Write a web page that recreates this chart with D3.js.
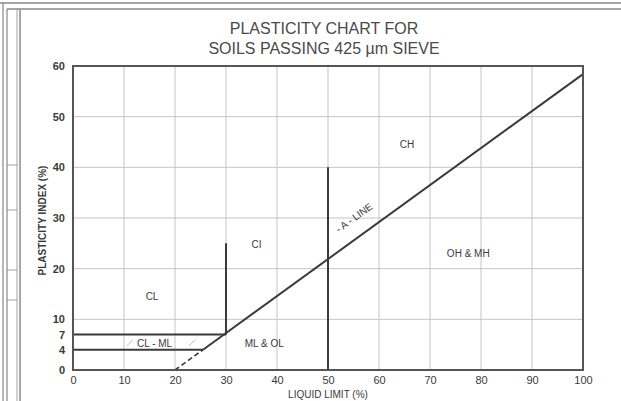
<!DOCTYPE html>
<html>
<head>
<meta charset="utf-8">
<script src="https://cdn.jsdelivr.net/npm/d3@7"></script>
<style>
  body { margin: 0; background: #fff; }
  svg { display: block; font-family: "Liberation Sans", Arial, sans-serif; }
</style>
</head>
<body>
<svg width="621" height="401"></svg>
<script>
var xTicks = [0, 10, 20, 30, 40, 50, 60, 70, 80, 90, 100];
var yTicks = [0, 4, 7, 10, 20, 30, 40, 50, 60];
var gridX = [10, 20, 30, 40, 50, 60, 70, 80, 90];
var gridY = [10, 20, 30, 40, 50];

// boundary lines, in liquid limit / plasticity index units
var aLineSolid = [[25.5, 4], [100, 58.4]];
var aLineDashed = [[20, 0], [25.5, 4]];
var boundaries = [
  [[0, 7], [30, 7]],
  [[0, 4], [25.5, 4]],
  [[30, 7], [30, 25]],
  [[50, 0], [50, 40]]
];
// faint hatch strokes inside the CL-ML band
var hatches = [
  [[10.6, 4.8], [11.8, 6]],
  [[22.8, 4.8], [24, 6]]
];

var zoneNames = ["CH", "CI", "OH & MH", "CL", "CL - ML", "ML & OL"];
var zoneLL = [65.5, 36, 77.5, 15.5, 16, 37.5];
var zonePI = [44.5, 24.8, 23, 14.5, 5.3, 5.2];

var svg = d3.select("svg"),
    margin = {top: 66, right: 38, bottom: 31, left: 73},
    width = svg.attr("width") - margin.left - margin.right,
    height = svg.attr("height") - margin.top - margin.bottom;

var x = d3.scaleLinear().domain([0, 100]).range([0, width]),
    y = d3.scaleLinear().domain([0, 60]).range([height, 0]);

// scanned page frame
var frame = svg.append("g").attr("stroke", "#888").attr("fill", "none");
frame.append("line").attr("x1", 0).attr("x2", 621).attr("y1", 3).attr("y2", 3).attr("stroke-width", 1.5);
frame.append("line").attr("x1", 7).attr("x2", 621).attr("y1", 9).attr("y2", 9).attr("stroke-width", 1.5);
frame.append("line").attr("x1", 3).attr("x2", 3).attr("y1", 3).attr("y2", 401).attr("stroke-width", 1.2);
frame.append("line").attr("x1", 7).attr("x2", 7).attr("y1", 9).attr("y2", 401).attr("stroke-width", 1.2);
frame.append("line").attr("x1", 20).attr("x2", 20).attr("y1", 9).attr("y2", 401).attr("stroke-width", 1.5);
frame.append("line").attr("x1", 17).attr("x2", 17).attr("y1", 9).attr("y2", 401).attr("stroke-width", 0.8);
[165, 210, 270, 300].forEach(function(v) {
  frame.append("line").attr("x1", 7).attr("x2", 17).attr("y1", v).attr("y2", v).attr("stroke-width", 0.8);
});

var title = svg.append("text")
    .attr("x", 324)
    .attr("text-anchor", "middle")
    .style("font-size", "16px")
    .style("fill", "#4a4a4a");
title.append("tspan").attr("x", 324).attr("y", 34).text("PLASTICITY CHART FOR");
title.append("tspan").attr("x", 324).attr("y", 54).text("SOILS PASSING 425 \u00b5m SIEVE");

var g = svg.append("g")
    .attr("transform", "translate(" + margin.left + "," + margin.top + ")");

g.selectAll(".gx")
  .data(gridX)
  .enter().append("line")
    .attr("class", "gx")
    .attr("x1", function(d) { return x(d); })
    .attr("x2", function(d) { return x(d); })
    .attr("y1", 0)
    .attr("y2", height)
    .attr("stroke", "#c4c4c4")
    .attr("stroke-width", 1);

g.selectAll(".gy")
  .data(gridY)
  .enter().append("line")
    .attr("class", "gy")
    .attr("x1", 0)
    .attr("x2", width)
    .attr("y1", function(d) { return y(d); })
    .attr("y2", function(d) { return y(d); })
    .attr("stroke", "#c4c4c4")
    .attr("stroke-width", 1);

var line = d3.line()
    .x(function(d) { return x(d[0]); })
    .y(function(d) { return y(d[1]); });

g.selectAll(".hatch")
  .data(hatches)
  .enter().append("path")
    .attr("class", "hatch")
    .attr("d", line)
    .attr("stroke", "#bbb")
    .attr("stroke-width", 1);

g.selectAll(".bound")
  .data(boundaries)
  .enter().append("path")
    .attr("class", "bound")
    .attr("d", line)
    .attr("fill", "none")
    .attr("stroke", "#3a3a3a")
    .attr("stroke-width", 2);

g.append("path")
    .attr("d", line(aLineSolid))
    .attr("fill", "none")
    .attr("stroke", "#3a3a3a")
    .attr("stroke-width", 2);

g.append("path")
    .attr("d", line(aLineDashed))
    .attr("fill", "none")
    .attr("stroke", "#3a3a3a")
    .attr("stroke-width", 1.6)
    .attr("stroke-dasharray", "5,3");

// plot frame
g.append("rect")
    .attr("width", width)
    .attr("height", height)
    .attr("fill", "none")
    .attr("stroke", "#555")
    .attr("stroke-width", 2);

g.append("g")
    .attr("transform", "translate(0," + height + ")")
    .call(d3.axisBottom(x).tickValues(xTicks).tickSize(0).tickPadding(6))
    .call(function(a) { a.select(".domain").remove(); })
    .selectAll("text")
      .style("font-size", "11px")
      .style("fill", "#3a3a3a")
      .style("font-family", "Liberation Sans, Arial, sans-serif");

g.append("g")
    .call(d3.axisLeft(y).tickValues(yTicks).tickSize(0).tickPadding(8))
    .call(function(a) { a.select(".domain").remove(); })
    .selectAll("text")
      .style("font-size", "11px")
      .style("font-weight", "bold")
      .style("fill", "#3a3a3a")
      .style("font-family", "Liberation Sans, Arial, sans-serif");

g.append("text")
    .attr("x", x(50))
    .attr("y", height + 28)
    .attr("text-anchor", "middle")
    .style("font-size", "10px")
    .style("fill", "#3a3a3a")
    .text("LIQUID LIMIT (%)");

g.append("text")
    .attr("transform", "translate(" + (-27) + "," + y(29.5) + ") rotate(-90)")
    .attr("text-anchor", "middle")
    .style("font-size", "10px")
    .style("font-weight", "bold")
    .style("fill", "#3a3a3a")
    .text("PLASTICITY INDEX (%)");

g.selectAll(".zone")
  .data(zoneNames)
  .enter().append("text")
    .attr("class", "zone")
    .attr("x", function(d, i) { return x(zoneLL[i]); })
    .attr("y", function(d, i) { return y(zonePI[i]); })
    .attr("text-anchor", "middle")
    .attr("dy", "0.35em")
    .style("font-size", "10px")
    .style("fill", "#3a3a3a")
    .text(function(d) { return d; });

// A-line label along the line
var ang = Math.atan2(y(58.4) - y(4), x(100) - x(25.5)) * 180 / Math.PI;
g.append("text")
    .attr("transform", "translate(" + x(55.5) + "," + y(29.5) + ") rotate(" + ang + ")")
    .attr("text-anchor", "middle")
    .style("font-size", "10px")
    .style("fill", "#3a3a3a")
    .text("- A - LINE");
</script>
</body>
</html>
